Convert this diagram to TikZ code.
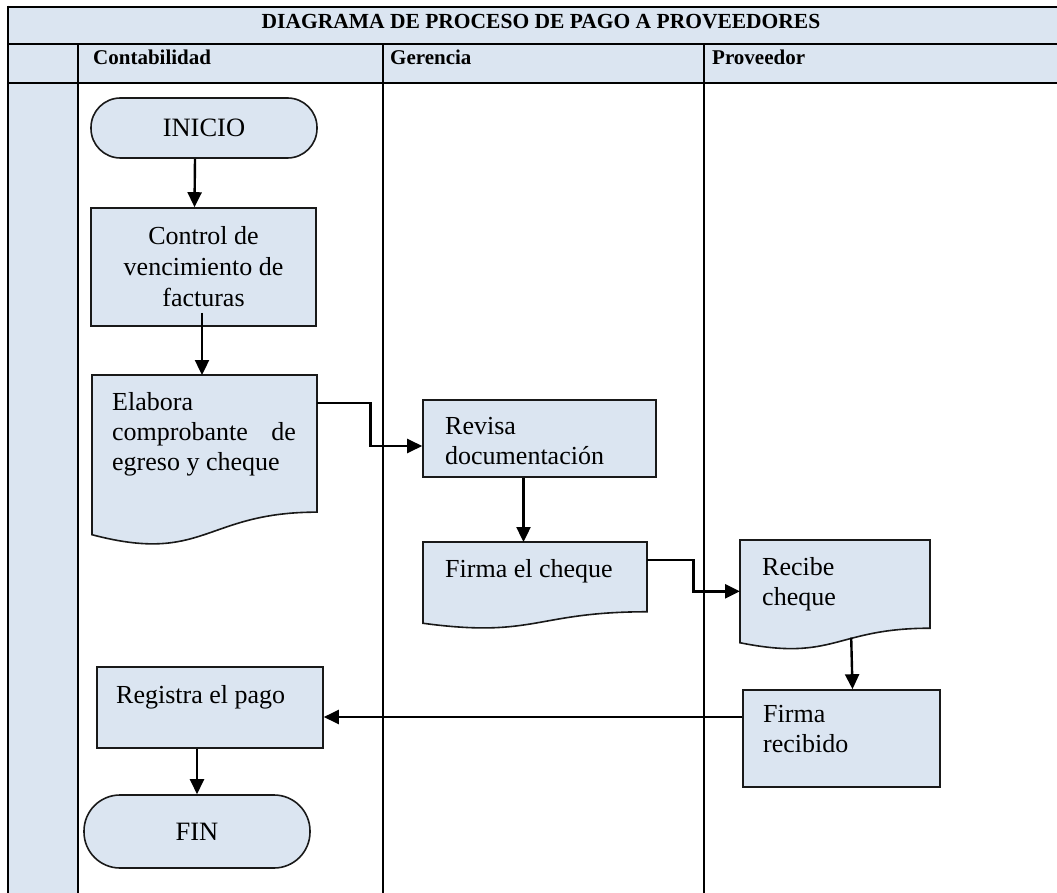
\documentclass[tikz,border=0pt]{standalone}
\usepackage{fontspec}
\setmainfont{Liberation Serif}
\usetikzlibrary{calc,arrows.meta}
\definecolor{cellblue}{RGB}{219,229,241}
\newcommand\docshape[5]{%
  \pgfmathsetmacro\dR{#2+#4}\pgfmathsetmacro\dM{#2+0.5*#4}%
  \pgfmathsetmacro\dB{#3+0.802*#5}\pgfmathsetmacro\dC{#3+1.108*#5}%
  \pgfmathsetmacro\dL{#3+0.934*#5}\pgfmathsetmacro\dH{0.802*#5}%
  \filldraw[box] (#2,#3) -- (\dR,#3) -- (\dR,\dB) .. controls (\dM,\dB) and (\dM,\dC) .. (#2,\dL) -- cycle;
  \node[inner sep=0pt, minimum width=#4pt, minimum height=\dH pt, anchor=north west] (#1) at (#2,#3) {};
}
\begin{document}
\begin{tikzpicture}[x=1pt,y=-1pt,
  grid/.style={line width=2.6pt},
  box/.style={draw=black!90, line width=1.6pt, fill=cellblue, inner sep=0pt},
  term/.style={box, align=center, font=\fontsize{26.5}{30}\selectfont},
  arr/.style={line width=2.4pt, -{Triangle[length=15pt,width=14pt]}},
  txt/.style={font=\fontsize{26}{30}\selectfont, inner sep=0pt, align=left, anchor=north west},
  head/.style={font=\bfseries\fontsize{21}{24}\selectfont, inner sep=0pt, anchor=base west}]

\useasboundingbox (0,0) rectangle (1057,893);
% table
\fill[cellblue] (8,7) rectangle (1062,83);
\fill[cellblue] (8,83) rectangle (78,897);
\draw[grid] (8,7) -- (1062,7);
\draw[grid] (8,44) -- (1062,44);
\draw[grid] (8,83) -- (1062,83);
\draw[grid] (8,5.7) -- (8,897);
\draw[grid] (78,44) -- (78,897);
\draw[grid] (383,44) -- (383,897);
\draw[grid] (704,44) -- (704,897);

\node[font=\bfseries\fontsize{21.5}{24}\selectfont, inner sep=0pt, anchor=base] (title) at (541,28.5) {DIAGRAMA DE PROCESO DE PAGO A PROVEEDORES};
\node[head] (hcont) at (93,65) {Contabilidad};
\node[head] (hger) at (390,65) {Gerencia};
\node[head] (hprov) at (712,65) {Proveedor};

% shapes
\node[term, minimum width=226pt, minimum height=60pt, rounded corners=29.5pt] (ini) at (204,128) {INICIO};
\node[box, align=center, font=\fontsize{26}{31}\selectfont, minimum width=225pt, minimum height=118pt] (ctrl) at (203.5,267) {Control de\\vencimiento de\\facturas};
\docshape{elab}{92}{375}{225}{171}
\node[box, minimum width=233pt, minimum height=77pt] (rev) at (539.5,438.5) {};
\docshape{firma}{423}{542}{224}{87}
\docshape{rec}{740}{540}{190}{110}
\node[box, minimum width=197pt, minimum height=97pt] (frec) at (841.5,738.5) {};
\node[box, minimum width=226pt, minimum height=81pt] (reg) at (210,707.5) {};
\node[term, minimum width=226pt, minimum height=73pt, rounded corners=36pt] (fin) at (197,831.5) {FIN};

% texts
\node[txt] (telab) at (112,392) {Elabora\\comprobante\hspace{0.9em}de\\egreso y cheque};
\node[txt] (trev) at (445,417) {Revisa\\documentación};
\node[txt] (tfirma) at (445,559) {Firma el cheque};
\node[txt] (trec) at (762,557) {Recibe\\cheque};
\node[txt] (tfrec) at (763,705) {Firma\\recibido};
\node[txt] (treg) at (116,685) {Registra el pago};

% connectors
\draw[arr] ([xshift=-9pt]ini.south) -- ([xshift=-9pt]ctrl.north);
\draw[arr] ([yshift=14pt,xshift=-1.5pt]ctrl.south) coordinate (c2) -- (c2 |- elab.north);
\draw[arr] ($(elab.north east)+(0,28)$) -- ++(53,0) |- ($(rev.west)+(0,7.5)$);
\draw[arr] ($(rev.south)+(-16,0)$) coordinate (c4) -- (c4 |- firma.north);
\draw[arr] ($(firma.north east)+(0,18)$) -- ++(46,0) |- ($(rec.west)+(0,7)$);
\draw[arr] ($(rec.south)+(16,9)$) -- ($(frec.north)+(11,0)$);
\draw[arr] ($(frec.west)+(0,-21.5)$) coordinate (c7) -- (c7 -| reg.east);
\draw[arr] (fin.north |- reg.south) -- (fin.north);
\end{tikzpicture}
\end{document}
